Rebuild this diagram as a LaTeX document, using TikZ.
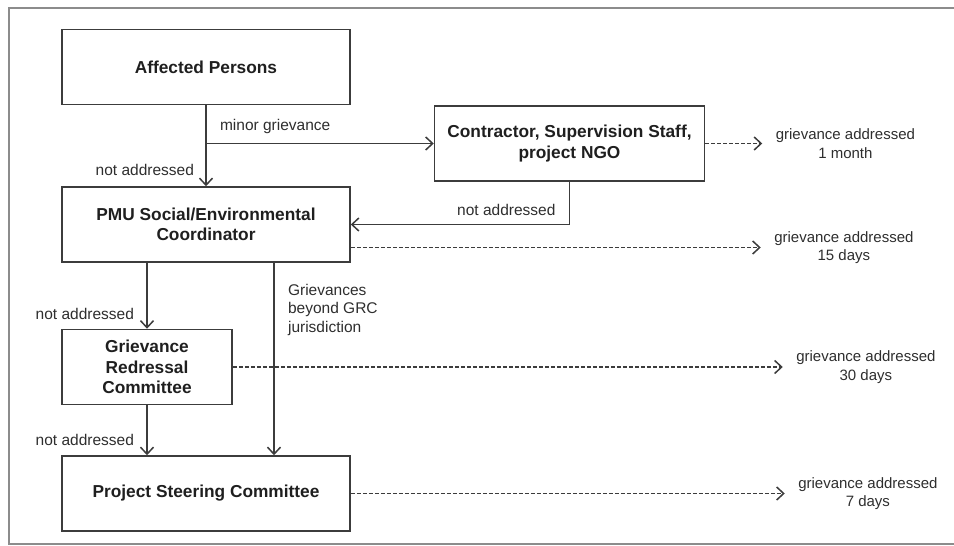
\documentclass[tikz,border=0pt]{standalone}
\usepackage{fontspec}
\setmainfont{Liberation Sans}
\usetikzlibrary{arrows.meta, positioning}
\definecolor{linegray}{RGB}{60,60,60}
\definecolor{framegray}{RGB}{140,140,140}
\tikzset{
  block/.style={rectangle, draw=linegray, line width=1.5pt, fill=white,
                align=center, minimum height=75pt,
                font=\fontsize{17.3}{20.5}\selectfont\bfseries, text=black!88},
  lbl/.style={font=\fontsize{15.5}{18.5}\selectfont, text=black!82},
  outtxt/.style={lbl, font=\fontsize{15}{18.5}\selectfont, align=center},
  arr/.style={-{Straight Barb[length=7pt, width=13pt, line width=1.5pt]}, line width=1.5pt, draw=linegray},
  darr/.style={arr, line width=1.2pt, dash pattern=on 4pt off 2pt, shorten >=10pt},
}
\begin{document}
\begin{tikzpicture}[x=1pt, y=-1pt]
  \useasboundingbox (0,0) rectangle (954,546);
  \draw[framegray, line width=1.6pt] (956,8) -- (9,8) -- (9,544) -- (956,544);

  \node[block, minimum width=288pt]                                     (ap)  at (206,67) {Affected Persons};
  \node[block, minimum width=288pt, below=81pt of ap]                   (pmu) {PMU Social/Environmental\\Coordinator};
  \node[block, minimum width=270pt, right=83pt of ap.south east, anchor=north west] (ctr) {Contractor, Supervision Staff,\\project NGO};
  \node[block, minimum width=170pt, below=66pt of pmu.south west, anchor=north west] (grc) {Grievance\\Redressal\\Committee};
  \node[block, minimum width=288pt, below=50pt of grc.south west, anchor=north west] (psc) {Project Steering Committee};

  \coordinate (pmuout) at ([yshift=-23pt]pmu.east);
  \node[outtxt, right=67pt of ctr]     (out1) {grievance addressed\\1 month};
  \node[outtxt, right=420pt of pmuout] (out2) {grievance addressed\\15 days};
  \node[outtxt, right=560pt of grc]    (out3) {grievance addressed\\30 days};
  \node[outtxt, right=444pt of psc]    (out4) {grievance addressed\\7 days};

  \coordinate (branch) at (ap.south |- ctr.west);
  \coordinate (jtop) at ([xshift=68pt]pmu.south);

  \draw[arr] (ap) -- node[lbl, pos=0.8, left=8pt]{not addressed} (pmu);
  \draw[arr] (branch) -- node[lbl, pos=0, anchor=south west, xshift=10pt, yshift=6pt]{minor grievance} (ctr.west);
  \draw[arr] (ctr.south) |- node[lbl, pos=0.5, anchor=south east, xshift=-10pt, yshift=5pt]{not addressed} (pmu.east);
  \draw[arr] (pmu.south -| grc.north) -- node[lbl, pos=0.77, left=9pt]{not addressed} (grc.north);
  \draw[arr] (grc) -- node[lbl, pos=0.7, left=9pt]{not addressed} (grc.south |- psc.north);
  \draw[arr] (jtop) -- node[lbl, pos=0, anchor=north west, align=left, xshift=10pt, yshift=-17pt]{Grievances\\beyond GRC\\jurisdiction} (jtop |- psc.north);

  \draw[darr] (ctr)    -- (out1);
  \draw[darr] (pmuout) -- (out2);
  \draw[darr] (grc)    -- (out3);
  \draw[darr] (psc)    -- (out4);
\end{tikzpicture}
\end{document}
